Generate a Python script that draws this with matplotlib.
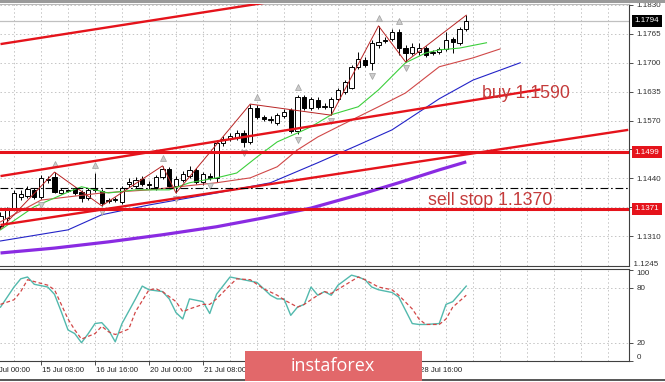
import numpy as np
import matplotlib.pyplot as plt
from matplotlib.patches import Rectangle
from matplotlib.transforms import Bbox, TransformedBbox

plt.rcParams['font.family'] = ['Liberation Sans', 'DejaVu Sans']

# EURUSD H4 - bar 0 is 14 Jul 00:00, one bar = 4 hours
bars = np.arange(2, 72)
opens = np.array([
    1.1333, 1.1351, 1.1373, 1.1398, 1.1400, 1.1414, 1.1398, 1.1436, 1.1443, 1.1407,
    1.1411, 1.1418, 1.1409, 1.1396, 1.1414, 1.1411, 1.1389, 1.1391, 1.1387, 1.1427,
    1.1423, 1.1438, 1.1425, 1.1420, 1.1443, 1.1461, 1.1423, 1.1436, 1.1445, 1.1459,
    1.1432, 1.1445, 1.1441, 1.1519, 1.1528, 1.1531, 1.1542, 1.1522, 1.1598, 1.1578,
    1.1571, 1.1564, 1.1580, 1.1594, 1.1546, 1.1623, 1.1598, 1.1616, 1.1600, 1.1600,
    1.1618, 1.1634, 1.1643, 1.1690, 1.1706, 1.1699, 1.1740, 1.1749, 1.1753, 1.1769,
    1.1733, 1.1722, 1.1724, 1.1733, 1.1722, 1.1724, 1.1731, 1.1753, 1.1744, 1.1776])
highs = np.array([
    1.1364, 1.1375, 1.1414, 1.1414, 1.1423, 1.1418, 1.1447, 1.1445, 1.1454, 1.1418,
    1.1416, 1.1420, 1.1414, 1.1418, 1.1452, 1.1416, 1.1396, 1.1398, 1.1423, 1.1441,
    1.1443, 1.1445, 1.1434, 1.1447, 1.1468, 1.1465, 1.1445, 1.1456, 1.1468, 1.1463,
    1.1454, 1.1452, 1.1526, 1.1535, 1.1542, 1.1549, 1.1549, 1.1607, 1.1605, 1.1582,
    1.1580, 1.1587, 1.1596, 1.1598, 1.1627, 1.1627, 1.1623, 1.1623, 1.1609, 1.1623,
    1.1643, 1.1661, 1.1695, 1.1724, 1.1713, 1.1751, 1.1783, 1.1758, 1.1776, 1.1776,
    1.1740, 1.1744, 1.1744, 1.1738, 1.1729, 1.1735, 1.1769, 1.1758, 1.1780, 1.1807])
lows = np.array([
    1.1326, 1.1342, 1.1369, 1.1391, 1.1396, 1.1393, 1.1393, 1.1429, 1.1407, 1.1405,
    1.1409, 1.1402, 1.1387, 1.1391, 1.1409, 1.1378, 1.1384, 1.1387, 1.1382, 1.1420,
    1.1418, 1.1423, 1.1416, 1.1414, 1.1438, 1.1418, 1.1407, 1.1432, 1.1441, 1.1427,
    1.1425, 1.1436, 1.1432, 1.1513, 1.1524, 1.1526, 1.1510, 1.1517, 1.1573, 1.1569,
    1.1564, 1.1560, 1.1576, 1.1542, 1.1540, 1.1594, 1.1594, 1.1596, 1.1596, 1.1582,
    1.1614, 1.1630, 1.1641, 1.1686, 1.1690, 1.1684, 1.1733, 1.1744, 1.1749, 1.1717,
    1.1702, 1.1717, 1.1717, 1.1713, 1.1717, 1.1720, 1.1726, 1.1722, 1.1740, 1.1771])
closes = np.array([
    1.1355, 1.1369, 1.1407, 1.1405, 1.1416, 1.1398, 1.1441, 1.1438, 1.1409, 1.1414,
    1.1414, 1.1407, 1.1396, 1.1414, 1.1416, 1.1384, 1.1391, 1.1393, 1.1418, 1.1432,
    1.1436, 1.1427, 1.1427, 1.1443, 1.1461, 1.1423, 1.1438, 1.1450, 1.1459, 1.1432,
    1.1450, 1.1441, 1.1519, 1.1528, 1.1535, 1.1542, 1.1522, 1.1598, 1.1578, 1.1573,
    1.1573, 1.1582, 1.1589, 1.1546, 1.1623, 1.1598, 1.1618, 1.1600, 1.1603, 1.1618,
    1.1639, 1.1657, 1.1690, 1.1708, 1.1695, 1.1744, 1.1747, 1.1751, 1.1769, 1.1733,
    1.1722, 1.1735, 1.1733, 1.1717, 1.1724, 1.1731, 1.1751, 1.1747, 1.1776, 1.1794])

# alligator lines (shifted forward) and slow MA, read at bar positions
jaw_x = [2, 12, 17, 24, 34, 42, 49, 55, 60, 67, 72, 79]
jaw_y = [1.1299, 1.1324, 1.1358, 1.1380, 1.1407, 1.1430, 1.1475, 1.1515, 1.1549, 1.1619, 1.1661, 1.1700]
teeth_x = [2, 8, 17, 24, 34, 39, 43, 46, 49, 52, 58, 62, 67, 72, 76]
teeth_y = [1.1342, 1.1391, 1.1407, 1.1414, 1.1430, 1.1441, 1.1466, 1.1504, 1.1533, 1.1556,
           1.1601, 1.1632, 1.1691, 1.1711, 1.1731]
lips_x = [2, 7, 12, 14, 18, 22, 27, 30, 34, 37, 40, 43, 46, 48, 51, 55, 58, 62, 65, 67, 70, 74]
lips_y = [1.1324, 1.1376, 1.1409, 1.1421, 1.1407, 1.1414, 1.1414, 1.1430, 1.1441, 1.1452, 1.1488,
          1.1522, 1.1542, 1.1556, 1.1583, 1.1601, 1.1639, 1.1700, 1.1722, 1.1729, 1.1733, 1.1745]
slow_x = [2, 10, 18, 26, 34, 41, 48, 56, 61, 67, 71]
slow_y = [1.1272, 1.1283, 1.1297, 1.1313, 1.1331, 1.1351, 1.1373, 1.1407, 1.1430, 1.1459, 1.1477]

# zigzag turning bars (starts on a low), fractal bars
zz_bars = [2, 10, 17, 26, 28, 39, 51, 58, 62, 71]
frac_up = [10, 16, 26, 40, 46, 58, 61]
frac_dn = [8, 17, 28, 33, 38, 46, 51, 57, 62]

# drawn objects
chan_top = ([2, 42], [1.1742, 1.1837])
chan_mid = ([2, 82], [1.1445, 1.1640])
chan_low = ([2, 95], [1.1335, 1.1549])
level_hi = 1.1499
level_lo = 1.1371
level_dash = 1.1418
bid = 1.1794
notes = [("buy 1.1590", 73.3, 1.1630), ("sell stop 1.1370", 65.3, 1.1391)]

price_levels = [1.1310, 1.1375, 1.1440, 1.1505, 1.1570, 1.1635, 1.1700, 1.1765, 1.1830]
price_labels = ['1.1310', '', '1.1440', '', '1.1570', '1.1635', '1.1700', '1.1765', '1.1830']

# stochastic
st_x = [2, 4, 5, 6, 7, 9, 10, 11, 12, 13, 14, 15, 16, 17, 18, 19, 20, 22, 23, 24, 26, 27, 28, 29,
        30, 32, 33, 34, 36, 38, 40, 42, 43, 44, 45, 46, 47, 48, 49, 50, 51, 52, 54, 55, 56, 57,
        58, 60, 61, 63, 64, 65, 67, 68, 69, 71]
st_main = [59, 81, 90, 92, 84, 81, 73, 54, 34, 30, 20, 30, 41, 42, 34, 21, 41, 68, 82, 78, 76, 68,
           53, 46, 68, 65, 52, 73, 92, 89, 86, 72, 68, 68, 50, 59, 62, 81, 72, 76, 72, 83, 94, 92,
           89, 81, 78, 75, 70, 41, 40, 40, 41, 62, 65, 82]
sig_x = [2, 4, 5, 6, 7, 9, 10, 11, 12, 13, 14, 16, 17, 18, 19, 21, 22, 24, 25, 26, 28, 29, 30, 32,
         33, 34, 36, 37, 39, 41, 43, 44, 46, 47, 49, 50, 51, 53, 55, 56, 58, 60, 61, 63, 64, 65,
         67, 68, 69, 71]
sig_val = [62, 67, 76, 89, 87, 83, 78, 62, 46, 34, 24, 30, 38, 32, 29, 35, 54, 78, 79, 76, 65, 54,
           57, 62, 62, 68, 83, 90, 89, 79, 72, 67, 59, 62, 72, 76, 74, 83, 92, 89, 81, 78, 72, 57,
           46, 40, 40, 46, 59, 72]

# time axis: ticks every 8 bars; labels under the watermark are not visible
time_ticks = [8, 16, 24, 32, 40, 48, 56, 64]
time_bars = [0, 8, 16, 24, 32, 64]
time_labels = ['14 Jul 00:00', '15 Jul 08:00', '16 Jul 16:00', '20 Jul 00:00', '21 Jul 08:00',
               '28 Jul 16:00']

RED = '#e5131b'
GRID = '#c4c4c4'
W, H = 665, 382

fig = plt.figure(figsize=(W / 100, H / 100), dpi=100)
ax = fig.add_axes([0, 116 / H, 629 / W, 262 / H])
ax2 = fig.add_axes([0, 21 / H, 629 / W, 92 / H])
xlim = (1.926, 95.11)

# ---- main chart ----
ax.set_xlim(*xlim)
ax.set_ylim(1.12427, 1.18322)
for gx in range(4, 96, 4):
    ax.axvline(gx, color=GRID, lw=0.7, ls=(0, (1.5, 2.5)), zorder=0)
    ax2.axvline(gx, color=GRID, lw=0.7, ls=(0, (1.5, 2.5)), zorder=0)
for gy in price_levels:
    ax.axhline(gy, color=GRID, lw=0.7, ls=(0, (1.5, 2.5)), zorder=0)

ax.axhline(bid, color='#c0c0c0', lw=0.9, zorder=1)

# candles
up = closes >= opens
ax.vlines(bars, lows, highs, color='black', lw=0.7, zorder=3)
body_lo = np.minimum(opens, closes)
body_h = np.maximum(np.abs(closes - opens), 0.00008)
ax.bar(bars, body_h, bottom=body_lo, width=0.6, color=np.where(up, 'white', 'black'),
       edgecolor='black', linewidth=0.7, zorder=3.5)

# indicators
ax.plot(slow_x, slow_y, color='#8a2be2', lw=2.3, zorder=4, solid_capstyle='butt')
ax.plot(jaw_x, jaw_y, color='#2323c8', lw=0.8, zorder=4)
ax.plot(teeth_x, teeth_y, color='#d04848', lw=0.8, zorder=4)
ax.plot(lips_x, lips_y, color='#3ccf3c', lw=0.8, zorder=4)

zz_price = [lows[b - 2] if k % 2 == 0 else highs[b - 2] for k, b in enumerate(zz_bars)]
ax.plot(zz_bars, zz_price, color='#b82424', lw=0.7, zorder=4)

up_idx = np.array(frac_up) - 2
dn_idx = np.array(frac_dn) - 2
ax.plot(frac_up, highs[up_idx] + 0.0018, ls='none', marker='^', ms=5,
        mfc='#cccccc', mec='#a0a0a0', mew=0.5, zorder=4)
ax.plot(frac_dn, lows[dn_idx] - 0.0014, ls='none', marker='v', ms=5,
        mfc='#cccccc', mec='#a0a0a0', mew=0.5, zorder=4)

# trend lines and levels
for xs, ys in (chan_top, chan_mid, chan_low):
    ax.plot(xs, ys, color=RED, lw=1.7, zorder=5, solid_capstyle='butt')
ax.axhline(level_hi, color=RED, lw=2.2, zorder=5)
ax.axhline(level_lo, color=RED, lw=2.2, zorder=5)
ax.axhline(level_dash, color='black', lw=0.8, ls=(0, (7, 2.5, 1.5, 2.5)), zorder=5)

for txt, tx, ty in notes:
    ax.text(tx, ty, txt, color='#c43a3a', fontsize=12.8, ha='left', va='center', zorder=6)

# price axis
ax.yaxis.tick_right()
ax.set_yticks(price_levels)
ax.set_yticklabels(price_labels)
ax.tick_params(axis='y', length=3, width=0.6, colors='#303030', labelsize=5.8, pad=2.5)
ax.set_xticks([])
ax.spines['left'].set_visible(False)
ax.spines['top'].set_color('#b8b8b8')
for s in ('right', 'bottom'):
    ax.spines[s].set_color('#404040')
    ax.spines[s].set_linewidth(0.8)

# bottom price label, cut by the panel edge
t = ax.text(1.0, 1.1245, '  1.1245', transform=ax.get_yaxis_transform(), ha='left',
            va='center', fontsize=5.8, color='#303030', clip_on=True)
t.set_clip_box(TransformedBbox(Bbox([[0.9, 116.5 / H], [1, 1]]), fig.transFigure))

for val, fc in ((level_hi, RED), (level_lo, RED), (bid, 'black')):
    ax.annotate(f'{val:.4f}', xy=(1, val), xycoords=('axes fraction', 'data'),
                xytext=(4, 0), textcoords='offset points', ha='left', va='center',
                fontsize=5.8, color='white', annotation_clip=False, zorder=7,
                bbox=dict(boxstyle='square,pad=0.3', fc=fc, ec='none'))

# ---- stochastic ----
ax2.set_xlim(*xlim)
ax2.set_ylim(0.36, 100.73)
for gy in (20, 80):
    ax2.axhline(gy, color=GRID, lw=0.7, ls=(0, (1.5, 2.5)), zorder=0)
ax2.plot(st_x, st_main, color='#52b9ad', lw=1.0, zorder=3)
ax2.plot(sig_x, sig_val, color='#d24646', lw=0.9, ls=(0, (3, 2)), zorder=3)
ax2.yaxis.tick_right()
ax2.set_yticks([0, 20, 80, 100])
ax2.set_yticklabels(['0', '20', '80', '100'])
ax2.tick_params(axis='y', length=3, width=0.6, colors='#303030', labelsize=5.8, pad=2.5)
labs = ax2.get_yticklabels()
labs[0].set_va('bottom')
labs[3].set_va('top')
ax2.set_xticks(time_ticks)
ax2.tick_params(axis='x', length=3, width=0.6, colors='#303030', labelbottom=False)
ax2.spines['left'].set_visible(False)
for s in ('right', 'bottom', 'top'):
    ax2.spines[s].set_color('#404040')
    ax2.spines[s].set_linewidth(0.8)

for b, lab in zip(time_bars, time_labels):
    ax2.annotate(lab, xy=(b, 0), xycoords=('data', 'axes fraction'), xytext=(0.8, -6.5),
                 textcoords='offset points', ha='left', va='center', fontsize=5.6,
                 color='#202020', annotation_clip=False)

# window frame bits
fig.patches.append(Rectangle((0, 1 - 3 / H), 1, 3 / H, transform=fig.transFigure,
                             fc='#9a9a9a', ec='none', zorder=0))
fig.patches.append(Rectangle((0, 1 / H), 1, 2 / H, transform=fig.transFigure,
                             fc='#5a5a5a', ec='none', zorder=0))

# watermark
fig.patches.append(Rectangle((245 / W, 1 / H), 177 / W, 30 / H, transform=fig.transFigure,
                             fc='#e2686a', ec='none', zorder=10))
fig.text(333 / W, 16 / H, 'instaforex', color='white', fontsize=13, ha='center', va='center',
         family=['Open Sans', 'DejaVu Sans'], zorder=11)

fig.savefig('out.png', dpi=100)
